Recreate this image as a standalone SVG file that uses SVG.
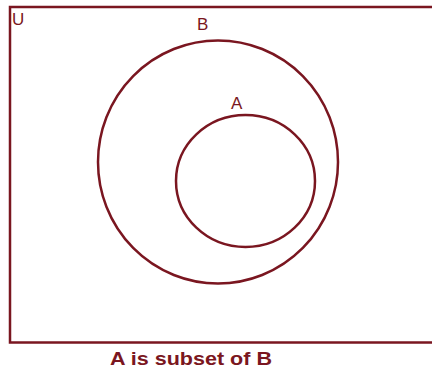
<svg xmlns="http://www.w3.org/2000/svg" width="432" height="371" viewBox="0 0 432 371">
<style>
.ln{fill:none;stroke:#7a1620;stroke-width:2.5}
.lb{font-family:"Liberation Sans",Arial,sans-serif;font-size:17px;fill:#7a1620}
.cap{font-size:18px;font-weight:bold}
</style>
<rect width="432" height="371" fill="#fff"/>
<g id="U">
<rect class="ln" x="10" y="7" width="430" height="335.5"/>
<text class="lb" x="12" y="25">U</text>
</g>
<g id="B">
<ellipse class="ln" cx="218" cy="162" rx="120" ry="121.5"/>
<text class="lb" x="197" y="30">B</text>
</g>
<g id="A">
<ellipse class="ln" cx="245.5" cy="181" rx="69.5" ry="66"/>
<text class="lb" x="231" y="109">A</text>
</g>
<g id="connectors"></g>
<text class="lb cap" x="110" y="365" textLength="162" lengthAdjust="spacingAndGlyphs">A is subset of B</text>
</svg>
